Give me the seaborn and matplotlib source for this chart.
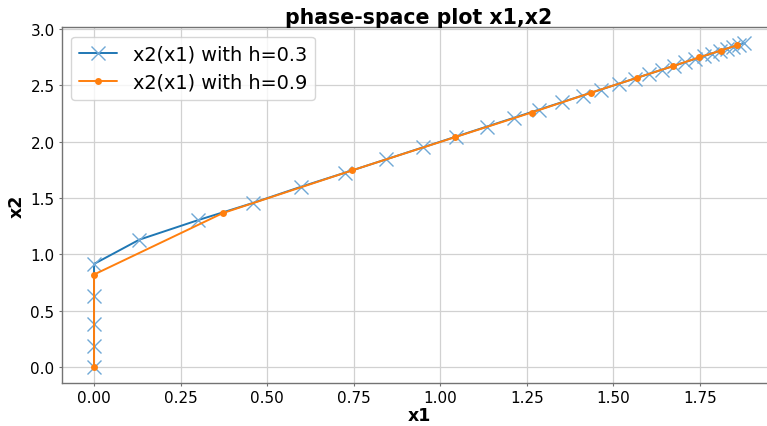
import matplotlib
matplotlib.use("Agg")
import matplotlib.pyplot as plt
import numpy as np
import pandas as pd
import seaborn as sns

# step h=0.3
x1_h03 = [0.0, 0.0, 0.0, 0.0, 0.0, 0.131, 0.301, 0.458, 0.598, 0.725, 0.843,
          0.949, 1.045, 1.134, 1.213, 1.285, 1.351, 1.411, 1.464, 1.516, 1.562,
          1.603, 1.640, 1.675, 1.707, 1.735, 1.761, 1.784, 1.807, 1.828, 1.845,
          1.863, 1.877]
x2_h03 = [0.0, 0.183, 0.382, 0.627, 0.914, 1.130, 1.304, 1.455, 1.600, 1.725, 1.843,
          1.949, 2.045, 2.134, 2.213, 2.285, 2.351, 2.411, 2.464, 2.516, 2.562,
          2.603, 2.640, 2.675, 2.707, 2.735, 2.761, 2.784, 2.807, 2.828, 2.845,
          2.863, 2.877]

# step h=0.9
x1_h09 = [0.0, 0.0, 0.372, 0.745, 1.042, 1.264, 1.435, 1.569, 1.671, 1.748, 1.810, 1.856]
x2_h09 = [0.0, 0.820, 1.366, 1.745, 2.040, 2.260, 2.435, 2.569, 2.671, 2.750, 2.810, 2.856]

labels = ["x2(x1) with h=0.3", "x2(x1) with h=0.9"]

sns.set_style("whitegrid")
plt.rcParams.update({
    "axes.edgecolor": "0.45",
    "axes.linewidth": 1.0,
    "grid.color": "0.82",
    "grid.linewidth": 0.9,
    "text.color": "black",
    "axes.labelcolor": "black",
    "xtick.bottom": True,
    "ytick.left": True,
    "xtick.major.size": 2.5,
    "ytick.major.size": 2.5,
    "xtick.major.pad": 2.5,
    "ytick.major.pad": 2.5,
    "xtick.color": "0.45",
    "ytick.color": "0.45",
    "xtick.labelcolor": "black",
    "ytick.labelcolor": "black",
    "xtick.labelsize": 11,
    "ytick.labelsize": 11,
})
plt.rcParams["font.family"] = ["DejaVu Sans"]

df03 = pd.DataFrame({"x1": x1_h03, "x2": x2_h03})
df09 = pd.DataFrame({"x1": x1_h09, "x2": x2_h09})

fig = plt.figure(figsize=(7.67, 4.27), dpi=100)
ax = fig.add_axes([0.0802, 0.1007, 0.932, 0.834])

sns.lineplot(data=df03, x="x1", y="x2", sort=False, estimator=None,
             marker="x", markersize=10, markeredgewidth=1.0,
             markeredgecolor="#6fa8d6", color="#1f77b4", linewidth=1.4,
             label=labels[0], ax=ax)
sns.lineplot(data=df09, x="x1", y="x2", sort=False, estimator=None,
             marker="o", markersize=5, markeredgewidth=0,
             color="#ff7f0e", linewidth=1.4, label=labels[1], ax=ax)

ax.set_title("phase-space plot x1,x2", fontsize=14.8, fontweight="bold", pad=3)
ax.set_xlabel("x1", fontsize=12.5, fontweight="bold", labelpad=1)
ax.set_ylabel("x2", fontsize=12.5, fontweight="bold", labelpad=3)
ax.set_xticks(np.arange(0, 1.76, 0.25))
ax.set_yticks(np.arange(0, 3.01, 0.5))
for s in ax.spines.values():
    s.set_visible(True)
ax.legend(loc="upper left", fontsize=13.9, frameon=True)

fig.savefig("out.png", dpi=100)
